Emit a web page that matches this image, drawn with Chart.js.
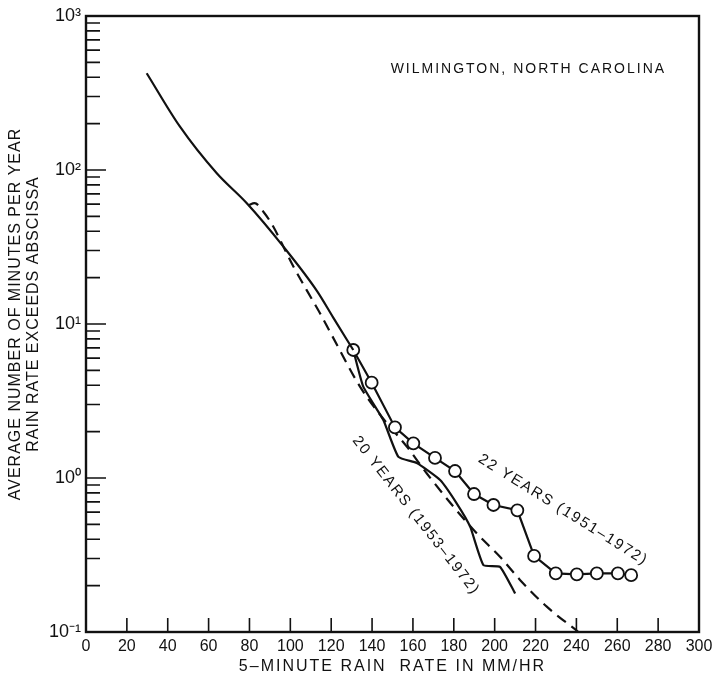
<!DOCTYPE html>
<html><head><meta charset="utf-8">
<script src="https://cdn.jsdelivr.net/npm/chart.js@4/dist/chart.umd.min.js"></script>
<style>html,body{margin:0;padding:0;background:#fff}canvas{display:block}</style>
</head><body>
<canvas id="c" width="712" height="676"></canvas>
<script>
// ---- data ----
const mainRate    = [29.7, 46, 64, 78.7, 96.6, 113, 121, 130.8];
const mainMinutes = [425, 191, 95.2, 60.8, 31.8, 16.4, 11.0, 6.78];

const rate22    = [130.8, 139.8, 151.2, 160.2, 170.8, 180.6, 189.9, 199.4, 211.1, 219.3, 229.9, 240.2, 250.0, 260.3, 266.8];
const minutes22 = [6.78, 4.16, 2.13, 1.68, 1.35, 1.11, 0.787, 0.668, 0.617, 0.312, 0.240, 0.237, 0.240, 0.240, 0.234];

const rate20    = [130.8, 135.7, 145.5, 152.9, 161.9, 173.3, 181.4, 188.0, 194.5, 202.6, 210.0];
const minutes20 = [6.78, 3.92, 2.38, 1.37, 1.25, 0.97, 0.685, 0.483, 0.272, 0.265, 0.178];

const rateDashed    = [79.4, 82.5, 86.8, 91.7, 95.8, 101.5, 108, 114.6, 120, 134.1, 144.7, 157, 166.8, 179.8, 191.2, 202.6, 212.4, 225.5, 241];
const minutesDashed = [59, 61, 53.6, 42.8, 33.4, 23.6, 16.6, 11.7, 8.6, 3.92, 2.5, 1.6, 1.07, 0.652, 0.437, 0.308, 0.218, 0.146, 0.1];

const xTickValues = [0, 20, 40, 60, 80, 100, 120, 140, 160, 180, 200, 220, 240, 260, 280, 300];
const xTickLabels = ['0','20','40','60','80','100','120','140','160','180','200','220','240','260','280','300'];
const yMajorValues = [0.1, 1, 10, 100, 1000];
const yTickLabels  = ['10\u207B\u00B9', '10\u2070', '10\u00B9', '10\u00B2', '10\u00B3'];
const yMinorFactors = [2, 3, 4, 5, 6, 7, 8, 9];

const locationTitle = 'WILMINGTON, NORTH CAROLINA';
const xTitle = '5\u2013MINUTE RAIN  RATE IN MM/HR';
const yTitle = ['AVERAGE NUMBER OF MINUTES PER YEAR', 'RAIN RATE EXCEEDS ABSCISSA'];
const seriesLabels = ['20 YEARS (1953\u20131972)', '22 YEARS (1951\u20131972)'];

// ---- build ----
const pts = (xs, ys) => xs.map((x, i) => ({x, y: ys[i]}));
const yTickValues = [];
yMajorValues.forEach((m, i) => {
  yTickValues.push(m);
  if (i < yMajorValues.length - 1) yMinorFactors.forEach(f => yTickValues.push(m * f));
});

const INK = '#111';
const FONT = "'Liberation Sans', Arial, Helvetica, sans-serif";

const decor = {
  id: 'decor',
  beforeDraw(chart) {
    const sp = {x: {dy: 2, ls: '2px'}, y: {dy: -10, ls: '1px'}};
    Object.keys(sp).forEach(id => {
      const s = chart.scales[id];
      if (s && !s._lsPatched) {
        const orig = s.drawTitle.bind(s);
        s.drawTitle = function () {
          const ctx = this.ctx;
          ctx.save();
          ctx.translate(0, sp[id].dy);
          ctx.letterSpacing = sp[id].ls;
          orig();
          ctx.restore();
        };
        s._lsPatched = true;
      }
    });
  },
  afterDraw(chart) {
    const {ctx, chartArea: a, scales: {x, y}} = chart;
    ctx.save();
    ctx.strokeStyle = INK;
    ctx.lineWidth = 2.4;
    ctx.strokeRect(a.left, a.top, a.right - a.left, a.bottom - a.top);
    ctx.lineWidth = 1.6;
    ctx.beginPath();
    y.ticks.forEach(t => {
      const p = y.getPixelForValue(t.value);
      const major = yMajorValues.some(m => Math.abs(m - t.value) < 1e-9 * m);
      if (Math.abs(p - a.top) < 1 || Math.abs(p - a.bottom) < 1) return;
      const len = major ? 20 : 14;
      ctx.moveTo(a.left, p); ctx.lineTo(a.left + len, p);
    });
    x.ticks.forEach(t => {
      if (t.value <= 0 || t.value >= 300) return;
      const p = x.getPixelForValue(t.value);
      ctx.moveTo(p, a.bottom); ctx.lineTo(p, a.bottom - 14);
    });
    ctx.stroke();

    ctx.fillStyle = INK;
    ctx.textBaseline = 'middle';
    ctx.textAlign = 'center';
    // location title
    ctx.font = '14px ' + FONT;
    ctx.letterSpacing = '2px';
    ctx.fillText(locationTitle, x.getPixelForValue(216.5), y.getPixelForValue(450));
    // series labels along curves
    const lab = [
      {t: seriesLabels[0], x: 161.5, y: 0.57, a: 52},
      {t: seriesLabels[1], x: 233.5, y: 0.62, a: 32}
    ];
    ctx.font = '15px ' + FONT;
    ctx.letterSpacing = '1.8px';
    lab.forEach(l => {
      ctx.save();
      ctx.translate(x.getPixelForValue(l.x), y.getPixelForValue(l.y));
      ctx.rotate(l.a * Math.PI / 180);
      ctx.fillText(l.t, 0, 0);
      ctx.restore();
    });
    ctx.restore();
  }
};

new Chart(document.getElementById('c'), {
  type: 'line',
  data: {
    datasets: [
      {label: 'main', data: pts(mainRate, mainMinutes), borderColor: INK, borderWidth: 2.2,
       pointRadius: 0, cubicInterpolationMode: 'monotone', fill: false},
      {label: '22 years', data: pts(rate22, minutes22), borderColor: INK, borderWidth: 2.2,
       pointRadius: 6, pointBackgroundColor: '#fff', pointBorderColor: INK, pointBorderWidth: 1.8,
       tension: 0, fill: false},
      {label: '20 years', data: pts(rate20, minutes20), borderColor: INK, borderWidth: 2.2,
       pointRadius: 0, tension: 0.15, fill: false},
      {label: 'dashed', data: pts(rateDashed, minutesDashed), borderColor: INK, borderWidth: 2.2,
       borderDash: [11, 7], pointRadius: 0, cubicInterpolationMode: 'monotone', fill: false}
    ]
  },
  options: {
    responsive: false,
    animation: false,
    layout: {padding: {left: 0, right: 13, top: 16, bottom: 0}},
    plugins: {legend: {display: false}, tooltip: {enabled: false}},
    scales: {
      x: {
        type: 'linear', min: 0, max: 300,
        grid: {display: false, drawTicks: false},
        border: {display: false},
        afterBuildTicks: s => { s.ticks = xTickValues.map(v => ({value: v})); },
        afterFit: s => { s.height = 44; s.paddingLeft = 0; s.paddingRight = 0; },
        ticks: {
          autoSkip: false, maxRotation: 0, padding: 5, color: INK,
          font: {family: FONT, size: 16},
          callback: (v) => { const i = xTickValues.indexOf(v); return i >= 0 ? xTickLabels[i] : ''; }
        },
        title: {display: true, text: xTitle, color: INK,
                font: {family: FONT, size: 16, lineHeight: 1.125}, padding: {top: 0, bottom: 2}}
      },
      y: {
        type: 'logarithmic', min: 0.1, max: 1000,
        grid: {display: false, drawTicks: false},
        border: {display: false},
        afterBuildTicks: s => { s.ticks = yTickValues.map(v => ({value: v})); },
        afterFit: s => { s.width = 86; s.paddingTop = 0; s.paddingBottom = 0; },
        ticks: {
          autoSkip: false, padding: 5, color: INK,
          font: {family: FONT, size: 18},
          callback: (v) => {
            const i = yMajorValues.findIndex(m => Math.abs(m - v) < 1e-9 * m);
            return i >= 0 ? yTickLabels[i] : '';
          }
        },
        title: {display: true, text: yTitle, color: INK,
                font: {family: FONT, size: 16, lineHeight: 1.125}, padding: {top: 7, bottom: 0}}
      }
    }
  },
  plugins: [decor]
});
</script>
</body></html>
